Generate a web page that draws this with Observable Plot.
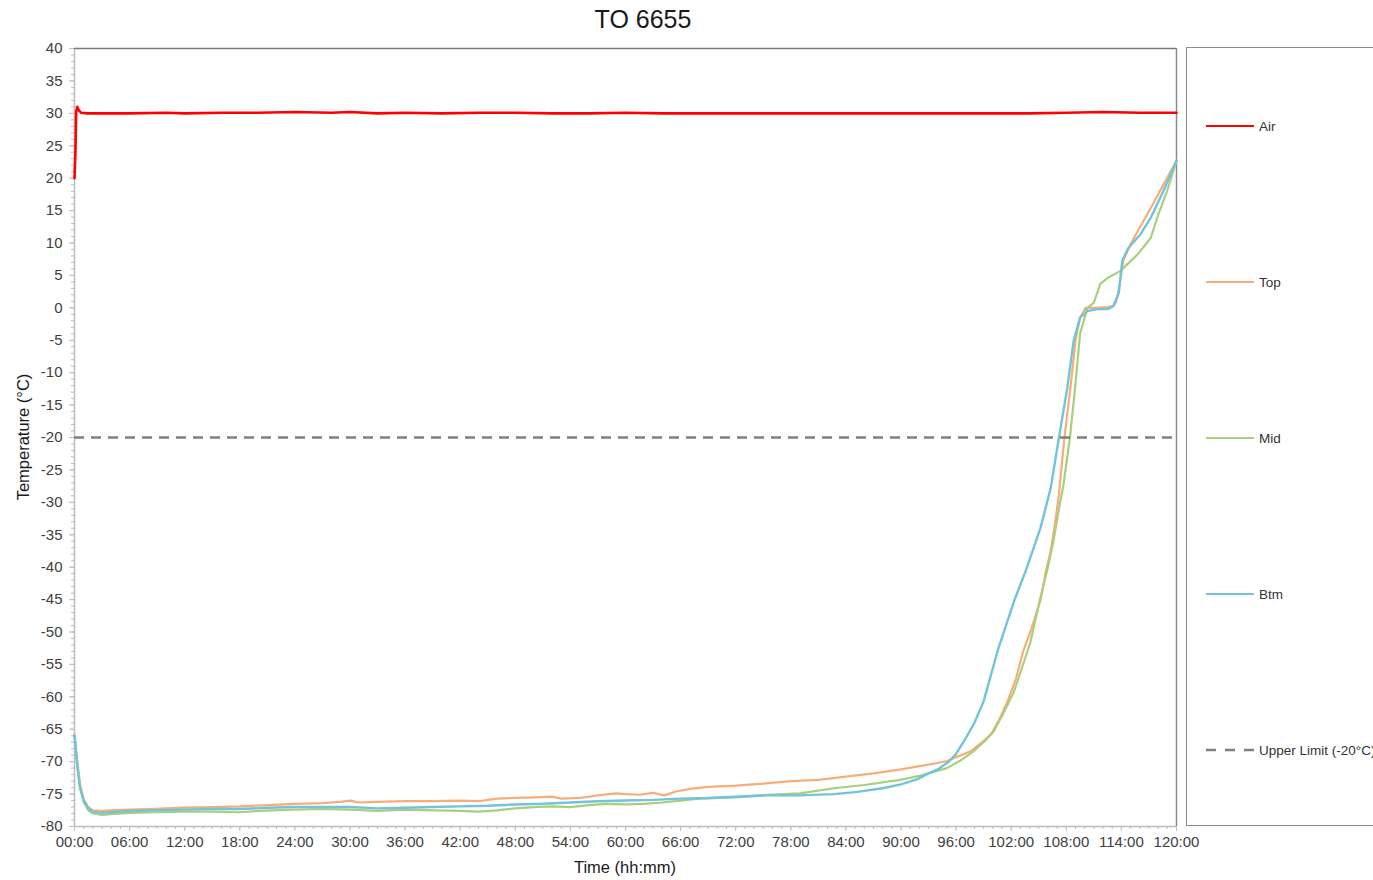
<!DOCTYPE html>
<html>
<head>
<meta charset="utf-8">
<script src="https://cdn.jsdelivr.net/npm/d3@7"></script>
<script src="https://cdn.jsdelivr.net/npm/@observablehq/plot@0.6"></script>
<style>
  html, body { margin: 0; padding: 0; background: #fff; overflow: hidden; }
  body { width: 1373px; height: 880px; position: relative; font-family: "Liberation Sans", Arial, sans-serif; }
  #chart { position: absolute; left: 0; top: 0; }
  .title { position: absolute; left: 643px; top: 19px; transform: translate(-50%, -50%); font-size: 25px; color: #1a1a1a; white-space: nowrap; }
  .ylab { position: absolute; left: 23px; top: 437px; transform: translate(-50%, -50%) rotate(-90deg); font-size: 16.5px; color: #1a1a1a; white-space: nowrap; }
  .xlab { position: absolute; left: 625px; top: 867px; transform: translate(-50%, -50%); font-size: 16.5px; color: #1a1a1a; white-space: nowrap; }
  #legend { position: absolute; left: 1186px; top: 47px; width: 260px; height: 779px; border: 1.5px solid #8c8c8c; box-sizing: border-box; }
  .item { position: absolute; left: 18px; height: 20px; display: flex; align-items: center; font-size: 13.5px; color: #333; white-space: nowrap; }
  .item svg { margin-right: 4px; }
</style>
</head>
<body>
<div id="chart"></div>
<div class="title">TO 6655</div>
<div class="ylab">Temperature (°C)</div>
<div class="xlab">Time (hh:mm)</div>
<div id="legend"></div>
<script>
// ---- data (hours, °C) ----
const air = [[0,20],[0.1,24],[0.18,30.2],[0.3,31],[0.45,30.5],[0.7,30.1],[1.5,30],[3,30],[6,30],[10,30.1],[12,30],[16,30.1],[20,30.1],[24,30.2],[28,30.1],[30,30.2],[33,30],[36,30.1],[40,30],[44,30.1],[48,30.1],[52,30],[56,30],[60,30.1],[64,30],[68,30],[72,30],[76,30],[80,30],[84,30],[88,30],[92,30],[96,30],[100,30],[104,30],[108,30.1],[112,30.2],[116,30.1],[120,30.1]];

const top_ = [[0,-65.8],[0.3,-70],[0.6,-73.5],[1,-75.8],[1.5,-77],[2,-77.5],[3,-77.6],[4,-77.5],[6,-77.4],[8,-77.3],[10,-77.2],[12,-77.1],[15,-77.0],[18,-76.9],[21,-76.7],[24,-76.5],[27,-76.4],[29,-76.2],[30,-76.0],[31,-76.3],[33,-76.2],[36,-76.1],[39,-76.1],[42,-76.0],[44,-76.1],[46,-75.7],[48,-75.6],[50,-75.5],[52,-75.4],[53,-75.7],[55,-75.6],[57,-75.2],[59,-74.9],[60,-75.0],[61.5,-75.1],[63,-74.8],[64.2,-75.2],[65.5,-74.6],[67,-74.2],[69,-73.9],[72,-73.7],[75,-73.4],[78,-73.0],[81,-72.8],[84,-72.3],[87,-71.8],[90,-71.2],[92,-70.7],[94,-70.2],[95,-69.9],[96,-69.3],[97.6,-68.4],[99,-66.8],[99.8,-65.8],[100.7,-63.5],[101.6,-60.7],[102.5,-57.3],[103.3,-53],[104.2,-49.5],[105.2,-45],[105.8,-40.5],[106.3,-37.5],[106.8,-33],[107.2,-28.7],[107.8,-20],[108.5,-11.7],[109,-5.1],[109.5,-1.5],[110.1,0],[111,0],[112.5,0.1],[113.1,0.3],[113.4,0.8],[113.8,3.5],[114.2,7.3],[115,9.8],[115.8,11.9],[117.2,15.4],[119,20.1],[120,22.7]];

const mid = [[0,-66],[0.3,-70.5],[0.6,-74],[1,-76.2],[1.5,-77.5],[2,-78],[3,-78.2],[4,-78.1],[6,-77.9],[9,-77.8],[12,-77.7],[15,-77.7],[18,-77.8],[20,-77.6],[24,-77.4],[27,-77.3],[30,-77.4],[33,-77.6],[36,-77.4],[39,-77.5],[42,-77.6],[44,-77.7],[46,-77.5],[48,-77.2],[50,-77.0],[52,-76.9],[54,-77.0],[56,-76.7],[58,-76.5],[60,-76.6],[62,-76.5],[64,-76.3],[66,-76.0],[68,-75.7],[72,-75.5],[75.5,-75.1],[79,-74.9],[82.7,-74.1],[86,-73.6],[89.9,-72.8],[92,-72.2],[95,-71],[96.5,-69.8],[97.9,-68.4],[99,-67],[100.1,-65.3],[101.2,-62.4],[102.3,-59.2],[103.3,-55],[104.1,-51.5],[105.2,-44.6],[106,-40],[106.6,-36],[107.2,-31],[107.7,-27.2],[108.4,-20],[109,-11.7],[109.5,-4],[110.3,0],[111,0.8],[111.7,3.7],[112.5,4.6],[113.9,5.7],[115.8,8.3],[117.2,10.8],[117.9,13.9],[119,18.1],[120,22.7]];

const btm = [[0,-66],[0.3,-70.5],[0.6,-74],[1,-76],[1.5,-77.2],[2,-77.7],[3,-77.9],[4,-77.8],[6,-77.6],[9,-77.5],[12,-77.4],[15,-77.3],[18,-77.3],[21,-77.1],[24,-77.0],[27,-77.0],[30,-77.0],[33,-77.2],[36,-77.1],[39,-77.0],[42,-76.9],[45,-76.8],[48,-76.6],[51,-76.5],[54,-76.3],[57,-76.1],[60,-76.0],[63,-75.9],[66,-75.7],[69,-75.6],[72,-75.4],[75.5,-75.2],[79,-75.2],[82.7,-75.0],[85,-74.7],[88,-74.1],[90,-73.5],[91.8,-72.7],[93,-71.8],[94,-71.2],[95.2,-70],[96,-68.8],[97,-66.5],[98,-64],[99,-60.7],[100.5,-53],[102.3,-45.3],[103.7,-40.1],[105.2,-33.9],[106.3,-27.8],[107.2,-20],[108.1,-12.4],[108.8,-5.1],[109.5,-1.5],[110.3,-0.5],[111.4,-0.2],[112.5,-0.2],[113.1,0.2],[113.7,2.2],[114.1,7.3],[114.7,9.1],[116.1,11.4],[117.2,13.9],[118.6,18.1],[120,22.7]];

const upperLimit = -20;
const seriesNames = ["Air", "Top", "Mid", "Btm"];
const seriesColors = ["#ff0000", "#f8ad78", "#a9cf7e", "#72c3dc"];
const xTicks = d3.range(0, 121, 6);
const xMinorTicks = d3.range(0, 121, 1);
const yTicks = d3.range(-80, 41, 5);
const yMinorTicks = d3.range(-80, 41, 1);

// ---- table ----
const rows = [];
[air, top_, mid, btm].forEach((arr, i) => arr.forEach(([h, t]) => rows.push({series: seriesNames[i], h, t})));
const sel = name => rows.filter(d => d.series === name);
const fmt = d => String(d).padStart(2, "0") + ":00";

const chart = Plot.plot({
  width: 1373,
  height: 880,
  marginLeft: 74,
  marginRight: 197,
  marginTop: 48,
  marginBottom: 54,
  style: {fontFamily: "'Liberation Sans', Arial, sans-serif", fontSize: "15px", color: "#404040", background: "white", overflow: "visible"},
  x: {domain: [0, 120], label: null},
  y: {domain: [-80, 40], label: null},
  marks: [
    Plot.axisX({ticks: xMinorTicks, tickSize: 3, tickFormat: () => "", stroke: "#bdbdbd", label: null}),
    Plot.axisX({ticks: xTicks, tickSize: 5, tickFormat: () => "", stroke: "#bdbdbd", label: null}),
    Plot.axisX({ticks: xTicks, tickSize: 0, tickPadding: 10, tickFormat: fmt, fill: "#404040", label: null}),
    Plot.axisY({ticks: yMinorTicks, tickSize: 3, tickFormat: () => "", stroke: "#bdbdbd", label: null}),
    Plot.axisY({ticks: yTicks, tickSize: 5, tickFormat: () => "", stroke: "#bdbdbd", label: null}),
    Plot.axisY({ticks: yTicks, tickSize: 0, tickPadding: 12, tickFormat: d => String(d), fill: "#404040", label: null}),
    Plot.ruleX([0], {stroke: "#bdbdbd", strokeWidth: 1.5}),
    Plot.ruleY([-80], {stroke: "#bdbdbd", strokeWidth: 1.5}),
    Plot.ruleY([40], {stroke: "#7a7a7a", strokeWidth: 1.5}),
    Plot.ruleX([120], {stroke: "#8a8a8a", strokeWidth: 1.5}),
    Plot.line(sel("Top"), {x: "h", y: "t", stroke: seriesColors[1], strokeWidth: 2.2}),
    Plot.line(sel("Mid"), {x: "h", y: "t", stroke: seriesColors[2], strokeWidth: 2.2}),
    Plot.line(sel("Btm"), {x: "h", y: "t", stroke: seriesColors[3], strokeWidth: 2.4}),
    Plot.line(sel("Air"), {x: "h", y: "t", stroke: seriesColors[0], strokeWidth: 2.6}),
    Plot.ruleY([upperLimit], {stroke: "#7f7f7f", strokeWidth: 2.5, strokeDasharray: "10,7"})
  ]
});
document.getElementById("chart").appendChild(chart);

// ---- legend ----
const legend = document.getElementById("legend");
const items = seriesNames.map((n, i) => ({name: n, color: seriesColors[i], dash: null}))
  .concat([{name: "Upper Limit (-20°C)", color: "#7f7f7f", dash: "10,9"}]);
items.forEach((it, i) => {
  const div = document.createElement("div");
  div.className = "item";
  div.style.top = (68 + i * 156) + "px";
  div.innerHTML = `<svg width="50" height="6"><line x1="1" x2="49" y1="3" y2="3" stroke="${it.color}" stroke-width="${it.dash ? 2.5 : 2}" ${it.dash ? `stroke-dasharray="${it.dash}"` : ""}/></svg><span>${it.name}</span>`;
  legend.appendChild(div);
});
</script>
</body>
</html>
